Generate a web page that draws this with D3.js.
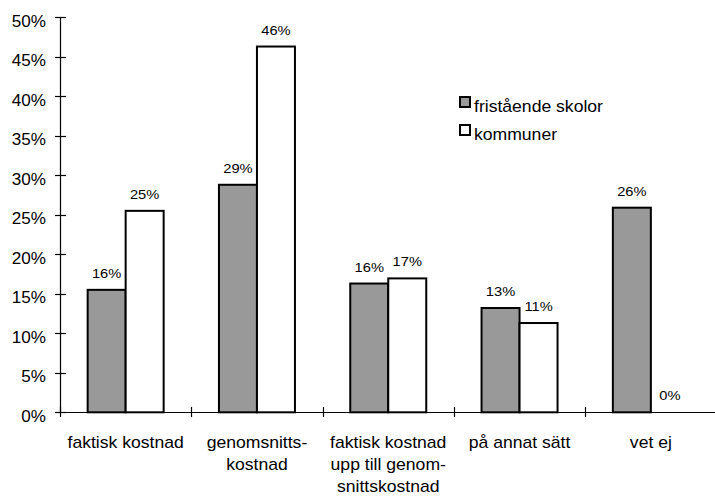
<!DOCTYPE html>
<html><head><meta charset="utf-8">
<script src="https://cdn.jsdelivr.net/npm/d3@7"></script>
<style>body{margin:0;background:#fff}svg text{font-family:"Liberation Sans",Arial,sans-serif;fill:#000}</style>
</head><body>
<svg id="c" width="715" height="496"></svg>
<script>
const categories = [["faktisk kostnad"],["genomsnitts-","kostnad"],["faktisk kostnad","upp till genom-","snittskostnad"],["på annat sätt"],["vet ej"]];
const seriesNames = ["fristående skolor","kommuner"];
const friskolor = [15.5, 28.8, 16.3, 13.2, 25.9];
const kommuner = [25.5, 46.3, 16.95, 11.3, 0];
const valueLabels = [["16%","29%","16%","13%","26%"],["25%","46%","17%","11%","0%"]];
const yTicks = [0,5,10,15,20,25,30,35,40,45,50];
const colors = ["#999999","#ffffff"];

const svg = d3.select("#c");
const x0 = d3.scaleBand().domain(d3.range(categories.length)).range([60, 716.5]).paddingInner(0).paddingOuter(0);
const x1 = d3.scaleBand().domain([0,1]).range([0, 76]);
const y = d3.scaleLinear().domain([0,50]).range([412.3, 17.3]);
const off = (x0.bandwidth()-76)/2;
const SX = 1.1;

const series = [friskolor, kommuner];
series.forEach((vals, s) => {
  svg.append("g").selectAll("rect").data(vals).join("rect")
    .attr("x", (d,i) => x0(i)+off+x1(s))
    .attr("y", d => y(d))
    .attr("width", x1.bandwidth())
    .attr("height", d => y(0)-y(d))
    .attr("fill", colors[s]).attr("stroke","#000").attr("stroke-width",2);
  svg.append("g").selectAll("text").data(vals).join("text")
    .attr("transform", (d,i) => `translate(${x0(i)+off+x1(s)+x1.bandwidth()/2},${y(d)-12}) scale(1.13,1)`)
    .attr("text-anchor","middle").attr("font-size",13)
    .text((d,i) => valueLabels[s][i]);
});

// y axis
const ga = svg.append("g");
ga.append("line").attr("x1",60.5).attr("x2",60.5).attr("y1",y(50)).attr("y2",y(0)).attr("stroke","#000").attr("stroke-width",1.2);
ga.selectAll(".yt").data(yTicks).join("line").attr("class","yt")
  .attr("x1",55).attr("x2",66).attr("y1",d=>Math.round(y(d))+0.5).attr("y2",d=>Math.round(y(d))+0.5).attr("stroke","#000").attr("stroke-width",1.2);
ga.selectAll(".yl").data(yTicks).join("text").attr("class","yl")
  .attr("transform", d => `translate(46,${y(d)+9.3}) scale(1.07,1)`)
  .attr("text-anchor","end").attr("font-size",16).text(d => d+"%");

// x axis
ga.append("line").attr("x1",60).attr("x2",716).attr("y1",412.5).attr("y2",412.5).attr("stroke","#000").attr("stroke-width",1.2);
ga.selectAll(".xt").data(d3.range(categories.length+1)).join("line").attr("class","xt")
  .attr("x1",i => Math.round(60 + i*x0.bandwidth())+0.5).attr("x2",i => Math.round(60 + i*x0.bandwidth())+0.5)
  .attr("y1",407).attr("y2",417).attr("stroke","#000").attr("stroke-width",1.2);
categories.forEach((lines,i) => {
  lines.forEach((t,j) => {
    svg.append("text")
      .attr("transform", `translate(${x0(i)+x0.bandwidth()/2},${448+j*22}) scale(${SX},1)`)
      .attr("text-anchor","middle").attr("font-size",16).text(t);
  });
});

// legend
const lg = svg.append("g");
seriesNames.forEach((n,i) => {
  lg.append("rect").attr("x",460).attr("y",97+i*28).attr("width",10).attr("height",10)
    .attr("fill",colors[i]).attr("stroke","#000").attr("stroke-width",2);
  lg.append("text").attr("transform",`translate(474,${111.5+i*28}) scale(${SX},1)`)
    .attr("font-size",16).text(n);
});
</script>
</body></html>
